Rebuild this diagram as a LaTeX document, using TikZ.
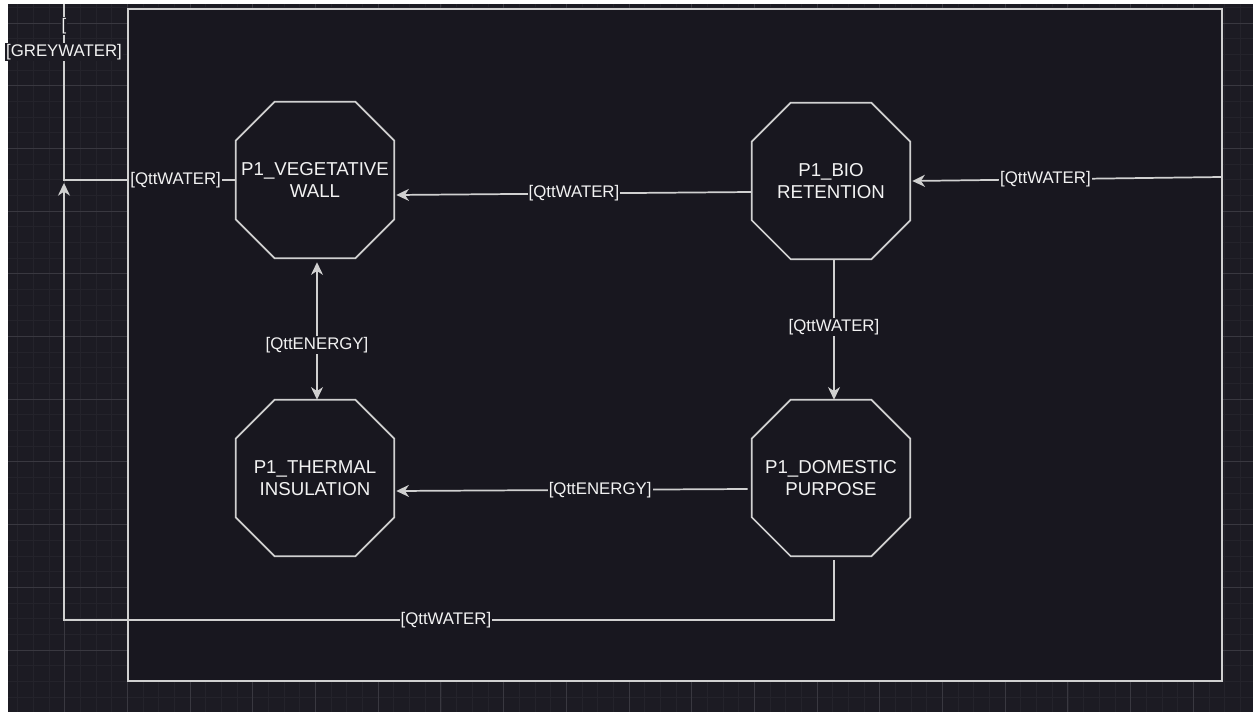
\documentclass[tikz,border=0pt]{standalone}
\usepackage{fontspec}
\setmainfont{Liberation Sans}
\usetikzlibrary{arrows.meta,calc}
\definecolor{bgc}{HTML}{1C1B23}
\definecolor{minorc}{HTML}{24232B}
\definecolor{majorc}{HTML}{393840}
\definecolor{framec}{HTML}{18171F}
\definecolor{linec}{HTML}{D0D0D0}
\definecolor{txtc}{HTML}{F2F2F2}
\begin{document}
\begin{tikzpicture}[x=0.75pt,y=-0.75pt,
  >={Stealth[length=9.5pt,width=9pt,inset=3pt]},
  proc/.style={minimum width=118.5pt,minimum height=117pt,inner sep=0pt,text=txtc,align=center,font=\fontsize{14}{16.5}\selectfont},
  octo/.style={draw=linec,line width=1.3pt,line join=miter},
  flow/.style={draw=linec,line width=1.3pt},
  lab/.style={fill=framec,text=txtc,inner sep=0.8pt,font=\fontsize{12.6}{15}\selectfont},
  labout/.style={lab,fill=bgc},
  framebox/.style={draw=linec,fill=framec,line width=1.6pt}
]
\useasboundingbox (0,0) rectangle (1253,712);
% background and grid
\fill[bgc] (0,0) rectangle (1253,712);
\foreach \i in {0,...,80} {
  \draw[minorc,line width=0.6pt] ({2+\i*15.675},0) -- ({2+\i*15.675},712);
}
\foreach \i in {-2,...,46} {
  \draw[minorc,line width=0.6pt] (0,{23+\i*15.675}) -- (1253,{23+\i*15.675});
}
\foreach \i in {0,...,20} {
  \draw[majorc,line width=0.7pt] ({2+\i*62.7},0) -- ({2+\i*62.7},712);
}
\foreach \i in {0,...,11} {
  \draw[majorc,line width=0.7pt] (0,{23+\i*62.7}) -- (1253,{23+\i*62.7});
}
\fill[white] (0,0) rectangle (8,712);
\fill[white] (0,0) rectangle (1253,4);
% container
\draw[framebox] (128,9) rectangle (1222,681);
% process nodes
\node[proc] (vw) at (315,180) {P1\_VEGETATIVE\\WALL};
\node[proc] (br) at (831,181) {P1\_BIO\\RETENTION};
\node[proc] (ti) at (315,478) {P1\_THERMAL\\INSULATION};
\node[proc] (dp) at (831,478) {P1\_DOMESTIC\\PURPOSE};
\foreach \n in {vw,br,ti,dp} {
  \draw[octo] ($(\n.north west)+(39,0)$) -- ($(\n.north east)+(-39,0)$)
    -- ($(\n.north east)+(0,39)$) -- ($(\n.south east)+(0,-39)$)
    -- ($(\n.south east)+(-39,0)$) -- ($(\n.south west)+(39,0)$)
    -- ($(\n.south west)+(0,-39)$) -- ($(\n.north west)+(0,39)$) -- cycle;
}
% free ends
\coordinate (src) at (1222,177);
\coordinate (jn) at (64,180);
\coordinate (topend) at (64,4);
% connectors
\draw[flow,->] (src) -- node[lab,pos=0.57]{[QttWATER]} ($(br.east)+(2,0)$);
\draw[flow,->] ($(br.west)+(0,11)$) -- node[lab,pos=0.5]{[QttWATER]} ($(vw.east)+(2,15)$);
\draw[flow,->] ($(br.south)+(3,0)$) -- node[lab,pos=0.48]{[QttWATER]} ($(dp.north)+(3,0)$);
\draw[flow,<->] ($(vw.south)+(2,4)$) -- node[lab,pos=0.6]{[QttENERGY]} ($(ti.north)+(2,0)$);
\draw[flow,->] ($(dp.west)+(-4,11)$) -- node[lab,pos=0.42]{[QttENERGY]} ($(ti.east)+(2,13)$);
\draw[flow,->] ($(dp.south)+(3,4)$) -- ++(0,60) -| node[lab,pos=0.252]{[QttWATER]} ($(jn)+(0,3)$);
\draw[flow] (vw.west) -- node[lab,pos=0.35]{[QttWATER]} (jn)
  -- node[labout,pos=0.727]{[GREYWATER]} node[labout,pos=0.875]{[} (topend);
\end{tikzpicture}
\end{document}
